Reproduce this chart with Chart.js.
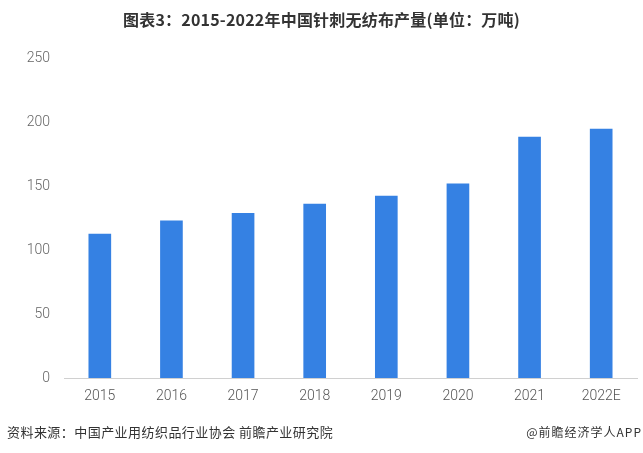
<!DOCTYPE html>
<html>
<head>
<meta charset="utf-8">
<script src="https://cdn.jsdelivr.net/npm/chart.js@4/dist/chart.umd.min.js"></script>
<style>
  html, body { margin: 0; padding: 0; background: #fff; }
  #wrap { position: relative; width: 643px; height: 453px; overflow: hidden; }
  #title { position: absolute; left: 0; top: 8px; width: 643px; text-align: center;
    font-family: "Noto Sans CJK SC", "Liberation Sans", sans-serif; font-weight: bold;
    font-size: 16px; color: #333; line-height: 22px; letter-spacing: 0.2px; }
  .foot { position: absolute; top: 423px; font-family: "Noto Sans CJK SC", sans-serif;
    font-size: 13px; color: #333; line-height: 18px; letter-spacing: 0.45px; }
  #src { left: 7px; }
  #app { right: 1px; font-size: 12px; letter-spacing: 1px; }
  canvas { position: absolute; left: 0; top: 0; }
</style>
</head>
<body>
<div id="wrap">
  <canvas id="c" width="643" height="453"></canvas>
  <div id="title">图表3：2015-2022年中国针刺无纺布产量(单位：万吨)</div>
  <div class="foot" id="src">资料来源：中国产业用纺织品行业协会 前瞻产业研究院</div>
  <div class="foot" id="app">@前瞻经济学人APP</div>
</div>
<script>
const categories = ["2015", "2016", "2017", "2018", "2019", "2020", "2021", "2022E"];
const production = [112.5, 122.7, 128.7, 135.9, 142.2, 151.6, 188.3, 194.5];
const yTicks = [0, 50, 100, 150, 200, 250];

new Chart(document.getElementById("c"), {
  type: "bar",
  data: {
    labels: categories,
    datasets: [{
      label: "针刺无纺布产量",
      data: production,
      backgroundColor: "#3581e3",
      borderWidth: 0,
      barThickness: 22
    }]
  },
  options: {
    responsive: false,
    animation: false,
    layout: { padding: { left: 0, right: 6, top: 58, bottom: 0 } },
    plugins: { legend: { display: false }, title: { display: false }, tooltip: { enabled: false } },
    scales: {
      x: {
        grid: { display: false, drawTicks: false },
        border: { display: true, color: "#d0d0d0", width: 1 },
        ticks: { color: "#555", padding: 10, font: { family: "Roboto", size: 14, weight: 300 } },
        afterFit(scale) { scale.height = 75; }
      },
      y: {
        min: 0, max: 250,
        afterBuildTicks(scale) { scale.ticks = yTicks.map(v => ({ value: v })); },
        grid: { display: false, drawTicks: false },
        border: { display: false },
        ticks: { color: "#666", padding: 14, font: { family: "Roboto", size: 14, weight: 300 } },
        afterFit(scale) { scale.width = 64; }
      }
    }
  }
});
</script>
</body>
</html>
